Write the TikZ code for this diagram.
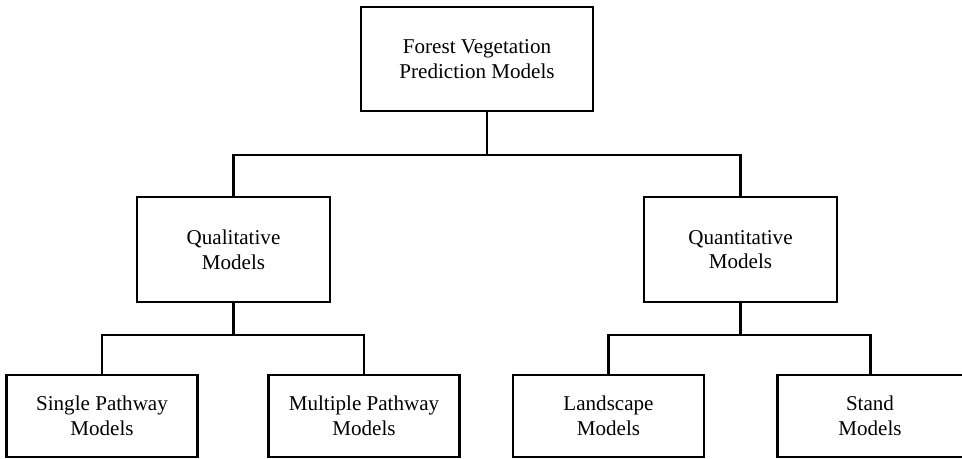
\documentclass[tikz,border=0pt]{standalone}
\usepackage{fontspec}
\setmainfont{Liberation Serif}
\usepackage{tikz}
\usetikzlibrary{positioning}

\tikzset{
    modelbox/.style={draw, line width=1.5pt, align=center, inner sep=0pt,
        font=\fontsize{12pt}{14pt}\selectfont},
    topbox/.style={modelbox, minimum width=4.64cm, minimum height=2.08cm},
    midbox/.style={modelbox, minimum width=3.86cm, minimum height=2.1cm},
    leafbox/.style={modelbox, minimum width=3.82cm, minimum height=1.64cm},
    link/.style={line width=1.5pt}
}

\begin{document}
\begin{tikzpicture}[x=0.02cm, y=-0.02cm]
    \useasboundingbox (0, 0) rectangle (962, 459);
    \node[topbox] (forest) at (477, 59) {Forest Vegetation\\Prediction Models};
    \node[midbox] (qual) at (233.5, 249.5) {Qualitative\\Models};
    \node[midbox] (quant) at (740.5, 249.5) {Quantitative\\Models};
    \node[leafbox] (single) at (102, 416) {Single Pathway\\Models};
    \node[leafbox] (multiple) at (364, 416) {Multiple Pathway\\Models};
    \node[leafbox] (landscape) at (608.5, 416) {Landscape\\Models};
    \node[leafbox, minimum width=4.1cm] (stand) at (880, 416) {Stand\makebox[0.4cm]{}\\Models\makebox[0.4cm]{}};
    \coordinate (hub) at (487, 155);
    \coordinate (qualhub) at (233.5, 335);
    \coordinate (quanthub) at (740.5, 335);
    \draw[link] (hub |- forest.south) -- (hub);
    \draw[link] (qual.north) |- (hub) -| (quant.north);
    \draw[link] (qual.south) -- (qualhub);
    \draw[link] (single.north) |- (qualhub) -| (multiple.north);
    \draw[link] (quant.south) -- (quanthub);
    \draw[link] (landscape.north) |- (quanthub) -| ([xshift=-0.19cm]stand.north);
\end{tikzpicture}
\end{document}
